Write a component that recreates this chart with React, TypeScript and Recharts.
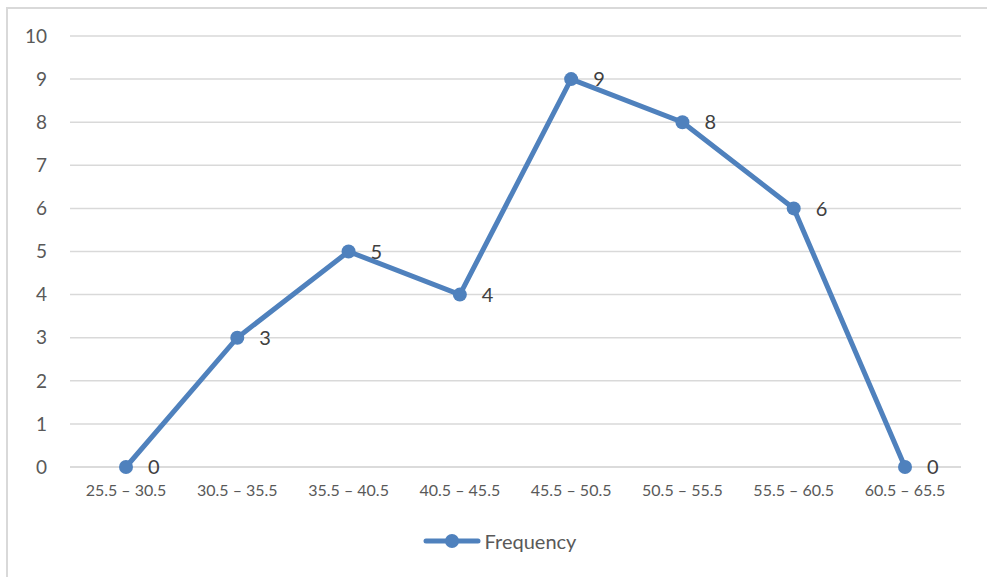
import { LineChart, Line, XAxis, YAxis, CartesianGrid, LabelList, Legend } from "recharts";

const classes = [
  "25.5 – 30.5",
  "30.5 – 35.5",
  "35.5 – 40.5",
  "40.5 – 45.5",
  "45.5 – 50.5",
  "50.5 – 55.5",
  "55.5 – 60.5",
  "60.5 – 65.5",
];
const frequency = [0, 3, 5, 4, 9, 8, 6, 0];
const yTicks = [0, 1, 2, 3, 4, 5, 6, 7, 8, 9, 10];

const data = classes.map((c, i) => ({ range: c, frequency: frequency[i] }));

const BLUE = "#4f81bd";
const TEXT = "#595959";
const FONT = "Lato, 'Open Sans', sans-serif";

function LegendBox() {
  return (
    <div
      style={{
        display: "flex",
        justifyContent: "center",
        alignItems: "center",
        fontFamily: FONT,
        paddingTop: 12,
        paddingLeft: 38,
      }}
    >
      <svg width={58} height={14} style={{ marginRight: 4 }}>
        <line x1={3} y1={7} x2={55} y2={7} stroke={BLUE} strokeWidth={5} strokeLinecap="round" />
        <circle cx={29} cy={7} r={7} fill={BLUE} />
      </svg>
      <span style={{ fontSize: 20, color: TEXT }}>Frequency</span>
    </div>
  );
}

export default function App() {
  return (
    <div style={{ position: "fixed", left: 0, top: 0, width: 987, height: 577, background: "#fff", overflow: "hidden" }}>
      <div
        style={{
          position: "absolute",
          left: 6,
          top: 7,
          width: 1000,
          height: 600,
          borderLeft: "2px solid #d9d9d9",
          borderTop: "2px solid #d9d9d9",
        }}
      />
      <div style={{ position: "absolute", left: 0, top: 0 }}>
        <LineChart width={987} height={577} data={data} margin={{ top: 36, right: 26, left: 0, bottom: 14 }}>
          <CartesianGrid vertical={false} stroke="#d9d9d9" strokeWidth={1.5} />
          <XAxis
            dataKey="range"
            stroke="#d9d9d9"
            strokeWidth={1.5}
            tickLine={false}
            tickMargin={12}
            height={50}
            interval={0}
            padding={{ left: 56, right: 56 }}
            tick={{ fill: TEXT, fontSize: 16, fontFamily: FONT }}
          />
          <YAxis
            domain={[0, 10]}
            ticks={yTicks}
            width={70}
            axisLine={false}
            tickLine={false}
            tickMargin={17}
            interval={0}
            tick={{ fill: TEXT, fontSize: 19, fontFamily: FONT }}
          />
          <Legend verticalAlign="bottom" height={46} content={() => <LegendBox />} />
          <Line
            type="linear"
            dataKey="frequency"
            stroke={BLUE}
            strokeWidth={5}
            dot={{ r: 7, fill: BLUE, stroke: BLUE, strokeWidth: 0 }}
            isAnimationActive={false}
          >
            <LabelList
              dataKey="frequency"
              position="right"
              offset={22}
              fill="#404040"
              fontSize={20}
              fontFamily={FONT}
            />
          </Line>
        </LineChart>
      </div>
    </div>
  );
}
